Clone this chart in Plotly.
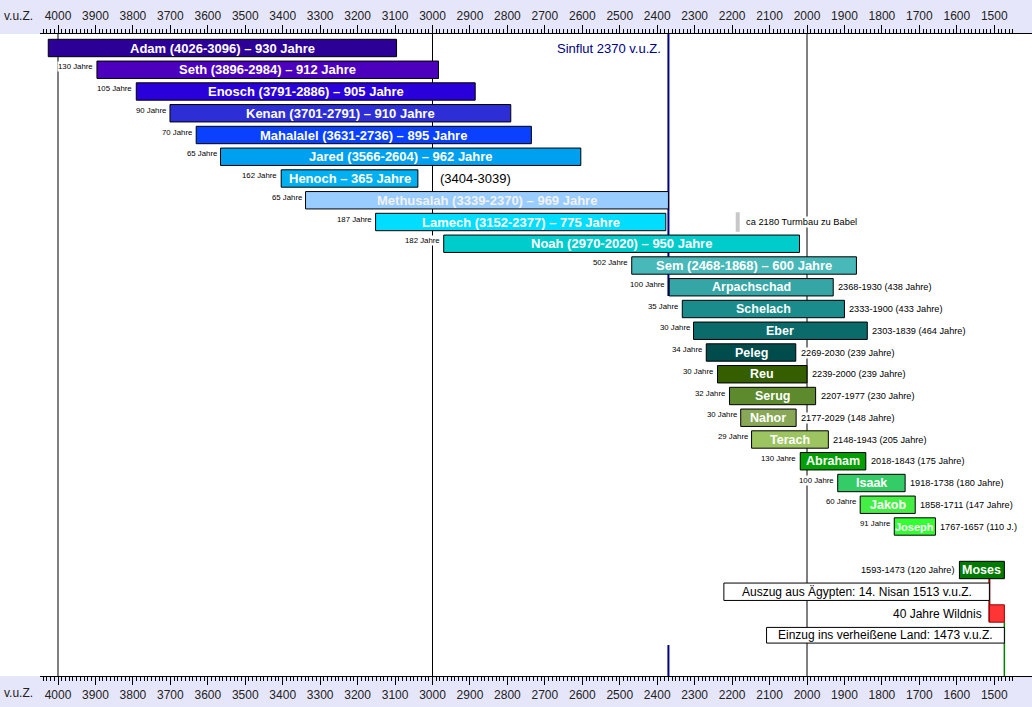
import plotly.graph_objects as go

# ---------------- data ----------------
patriarch_names = ["Adam (4026-3096) – 930 Jahre", "Seth (3896-2984) – 912 Jahre",
                   "Enosch (3791-2886) – 905 Jahre", "Kenan (3701-2791) – 910 Jahre",
                   "Mahalalel (3631-2736) – 895 Jahre", "Jared (3566-2604) – 962 Jahre",
                   "Henoch – 365 Jahre", "Methusalah (3339-2370) – 969 Jahre",
                   "Lamech (3152-2377) – 775 Jahre", "Noah (2970-2020) – 950 Jahre",
                   "Sem (2468-1868) – 600 Jahre", "Arpachschad", "Schelach", "Eber",
                   "Peleg", "Reu", "Serug", "Nahor", "Terach", "Abraham", "Isaak",
                   "Jakob", "Joseph"]
birth_years = [4026, 3896, 3791, 3701, 3631, 3566, 3404, 3339, 3152, 2970, 2468,
               2368, 2333, 2303, 2269, 2239, 2207, 2177, 2148, 2018, 1918, 1858, 1767]
death_years = [3096, 2984, 2886, 2791, 2736, 2604, 3039, 2370, 2377, 2020, 1868,
               1930, 1900, 1839, 2030, 2000, 1977, 2029, 1943, 1843, 1738, 1711, 1657]
bar_colors = ["#2C0096", "#4C00BE", "#2A00DA", "#2E2ED6", "#0A40FF", "#00A0F0",
              "#00B0F0", "#99CCFF", "#00DDFF", "#00CCCC", "#48B8B8", "#35A5A5",
              "#1A8C8C", "#0B6B6B", "#004C4C", "#345E00", "#5C8A2C", "#88A858",
              "#9CC460", "#00A000", "#33CC66", "#44EE44", "#33FF33"]
father_age = ["", "130 Jahre", "105 Jahre", "90 Jahre", "70 Jahre", "65 Jahre",
              "162 Jahre", "65 Jahre", "187 Jahre", "182 Jahre", "502 Jahre",
              "100 Jahre", "35 Jahre", "30 Jahre", "34 Jahre", "30 Jahre", "32 Jahre",
              "30 Jahre", "29 Jahre", "130 Jahre", "100 Jahre", "60 Jahre", "91 Jahre"]
life_span_text = ["", "", "", "", "", "", "", "", "", "", "",
                  "2368-1930 (438 Jahre)", "2333-1900 (433 Jahre)", "2303-1839 (464 Jahre)",
                  "2269-2030 (239 Jahre)", "2239-2000 (239 Jahre)", "2207-1977 (230 Jahre)",
                  "2177-2029 (148 Jahre)", "2148-1943 (205 Jahre)", "2018-1843 (175 Jahre)",
                  "1918-1738 (180 Jahre)", "1858-1711 (147 Jahre)", "1767-1657 (110 J.)"]
henoch_dates = "(3404-3039)"

moses_name = "Moses"
moses_years = (1593, 1473)
moses_text = "1593-1473 (120 Jahre)"

exodus_text = "Auszug aus Ägypten: 14. Nisan 1513 v.u.Z."
exodus_box = (2222, 1513)
wilderness_text = "40 Jahre Wildnis"
wilderness_years = (1513, 1473)
entry_text = "Einzug ins verheißene Land: 1473 v.u.Z."
entry_box = (2108, 1473)

flood_year = 2370
flood_text = "Sinflut 2370 v.u.Z."
babel_year = 2180
babel_text = "ca 2180 Turmbau zu Babel"

tick_years = list(range(4000, 1499, -100))
tick_labels = [str(v) for v in tick_years]
minor_years = [v for v in range(4040, 1449, -10) if v % 100 != 0]
era_label = "v.u.Z."

# ---------------- layout helpers ----------------
W, H = 1032, 707
ML, MR, MT, MB = 40, 0, 34, 31
PW, PH = W - ML - MR, H - MT - MB
PX_PER_YEAR = 0.3745
X_LEFT = 4000 + (58 - ML) / PX_PER_YEAR
X_RIGHT = 4000 - (W - 58) / PX_PER_YEAR
ROW_PX = 21.75
Y_TOP = -(48 - MT) / ROW_PX
Y_BOT = Y_TOP + PH / ROW_PX

FONT = "Liberation Sans, Arial, sans-serif"
BAR_W = 0.8

rows = list(range(len(patriarch_names)))
moses_row = len(patriarch_names) + 1
exodus_row, wild_row, entry_row = moses_row + 1, moses_row + 2, moses_row + 3

fig = go.Figure()

# patriarch bars
fig.add_trace(go.Bar(
    orientation="h", y=rows, base=death_years,
    x=[b - d for b, d in zip(birth_years, death_years)],
    width=BAR_W, marker=dict(color=bar_colors, line=dict(color="black", width=1)),
    hoverinfo="skip", showlegend=False))

# Moses and events
fig.add_trace(go.Bar(
    orientation="h",
    y=[moses_row, exodus_row, wild_row, entry_row],
    base=[moses_years[1], exodus_box[1], wilderness_years[1], entry_box[1]],
    x=[moses_years[0] - moses_years[1], exodus_box[0] - exodus_box[1],
       wilderness_years[0] - wilderness_years[1], entry_box[0] - entry_box[1]],
    width=[BAR_W, BAR_W, BAR_W, 0.72],
    marker=dict(color=["#007A00", "white", "#FF3535", "white"],
                line=dict(color=["black", "black", "#990000", "black"], width=1)),
    hoverinfo="skip", showlegend=False))

# dummy trace for top axis
fig.add_trace(go.Scatter(x=[3000], y=[0], xaxis="x2", mode="markers",
                         marker=dict(opacity=0), hoverinfo="skip", showlegend=False))

shapes = []
# lavender bands
shapes.append(dict(type="rect", xref="paper", yref="paper", x0=-ML / PW - 0.01, x1=1.01,
                   y0=1, y1=1 + MT / PH + 0.01, fillcolor="#E6E6FA", line_width=0, layer="below"))
shapes.append(dict(type="rect", xref="paper", yref="paper", x0=-ML / PW - 0.01, x1=1.01,
                   y0=-MB / PH - 0.01, y1=0, fillcolor="#E6E6FA", line_width=0, layer="below"))
# millennium lines
for yr in (4000, 3000, 2000):
    shapes.append(dict(type="line", xref="x", yref="paper", x0=yr, x1=yr, y0=0, y1=1,
                       line=dict(color="black", width=1), layer="below"))
# flood line
shapes.append(dict(type="line", xref="x", yref="y", x0=flood_year, x1=flood_year,
                   y0=Y_TOP, y1=11 + BAR_W / 2, line=dict(color="#000080", width=2), layer="below"))
shapes.append(dict(type="line", xref="x", yref="y", x0=flood_year, x1=flood_year,
                   y0=entry_row + 0.45, y1=Y_BOT, line=dict(color="#000080", width=2), layer="below"))
# Babel marker
shapes.append(dict(type="line", xref="x", yref="y", x0=babel_year + 5, x1=babel_year + 5,
                   y0=8 - 0.45, y1=8 + 0.45, line=dict(color="#C8C8C8", width=4), layer="below"))
# exodus / wilderness lines
shapes.append(dict(type="line", xref="x", yref="y", x0=exodus_box[1], x1=exodus_box[1],
                   y0=moses_row + BAR_W / 2, y1=wild_row + BAR_W / 2,
                   line=dict(color="#8B0000", width=2), layer="below"))
shapes.append(dict(type="line", xref="x", yref="y", x0=wilderness_years[1], x1=wilderness_years[1],
                   y0=wild_row + BAR_W / 2, y1=Y_BOT,
                   line=dict(color="#008000", width=1.5), layer="below"))

ann = []
# bar names
for i, (txt, b, d) in enumerate(zip(patriarch_names, birth_years, death_years)):
    if i <= 10:
        size = 13
    elif i == 22:
        size = 11
    else:
        size = 12.5
    color = "#F2F2F2" if i == 7 else "white"
    ann.append(dict(x=(b + d) / 2, y=i, text=f"<b>{txt}</b>", showarrow=False,
                    font=dict(family=FONT, size=size, color=color)))
# father age labels
for i, (txt, b) in enumerate(zip(father_age, birth_years)):
    if txt:
        ann.append(dict(x=b, y=i, text=txt, showarrow=False, xanchor="right",
                        xshift=-3, yshift=3, bgcolor="white", borderpad=0,
                        font=dict(family=FONT, size=7.8, color="black")))
# life span labels
for i, (txt, d) in enumerate(zip(life_span_text, death_years)):
    if txt:
        ann.append(dict(x=d, y=i, text=txt, showarrow=False, xanchor="left",
                        xshift=4, bgcolor="white", borderpad=0,
                        font=dict(family=FONT, size=9.2, color="black")))
ann.append(dict(x=3000, y=6, text=henoch_dates, showarrow=False, xanchor="left", xshift=5,
                font=dict(family=FONT, size=13, color="black")))
ann.append(dict(x=flood_year, y=0, text=flood_text, showarrow=False, xanchor="right",
                xshift=-5, font=dict(family=FONT, size=13, color="#000080")))
ann.append(dict(x=babel_year, y=8, text=babel_text, showarrow=False, xanchor="left",
                xshift=5, bgcolor="white", borderpad=0,
                font=dict(family=FONT, size=9.3, color="black")))
# Moses
ann.append(dict(x=sum(moses_years) / 2, y=moses_row, text=f"<b>{moses_name}</b>",
                showarrow=False, font=dict(family=FONT, size=12.5, color="white")))
ann.append(dict(x=moses_years[0], y=moses_row, text=moses_text, showarrow=False,
                xanchor="right", xshift=-4, bgcolor="white", borderpad=0,
                font=dict(family=FONT, size=9.2, color="black")))
ann.append(dict(x=sum(exodus_box) / 2, y=exodus_row, text=exodus_text, showarrow=False,
                font=dict(family=FONT, size=12, color="black")))
ann.append(dict(x=wilderness_years[0], y=wild_row, text=wilderness_text, showarrow=False,
                xanchor="right", xshift=-5, font=dict(family=FONT, size=12, color="black")))
ann.append(dict(x=sum(entry_box) / 2, y=entry_row, text=entry_text, showarrow=False,
                font=dict(family=FONT, size=12, color="black")))
# era labels
for yy in (1 + (MT - 16) / PH, -(693 - (H - MB)) / PH):
    ann.append(dict(xref="paper", yref="paper", x=(18 - ML) / PW, y=yy, text=era_label,
                    xanchor="center", yanchor="middle",
                    showarrow=False, font=dict(family=FONT, size=12, color="#222")))

axis_common = dict(
    range=[X_LEFT, X_RIGHT], tickmode="array", tickvals=tick_years, ticktext=tick_labels,
    ticks="outside", ticklen=8, tickcolor="black", tickwidth=1,
    showline=True, linecolor="black", linewidth=1, showgrid=False, zeroline=False,
    tickfont=dict(family=FONT, size=12, color="#222"),
    minor=dict(tickmode="array", tickvals=minor_years, ticks="outside", ticklen=4,
               tickcolor="black", tickwidth=1, showgrid=False),
)

fig.update_layout(
    width=W, height=H, margin=dict(l=ML, r=MR, t=MT, b=MB, pad=0),
    paper_bgcolor="white", plot_bgcolor="white", barmode="overlay",
    xaxis=dict(**axis_common, side="bottom"),
    xaxis2=dict(**axis_common, side="top", overlaying="x", anchor="y"),
    yaxis=dict(range=[Y_BOT, Y_TOP], visible=False, fixedrange=True),
    shapes=shapes, annotations=ann, showlegend=False,
)

fig.write_html("out.html", config={"displayModeBar": False},
               post_script="document.body.style.margin='0';document.body.style.overflow='hidden';")
